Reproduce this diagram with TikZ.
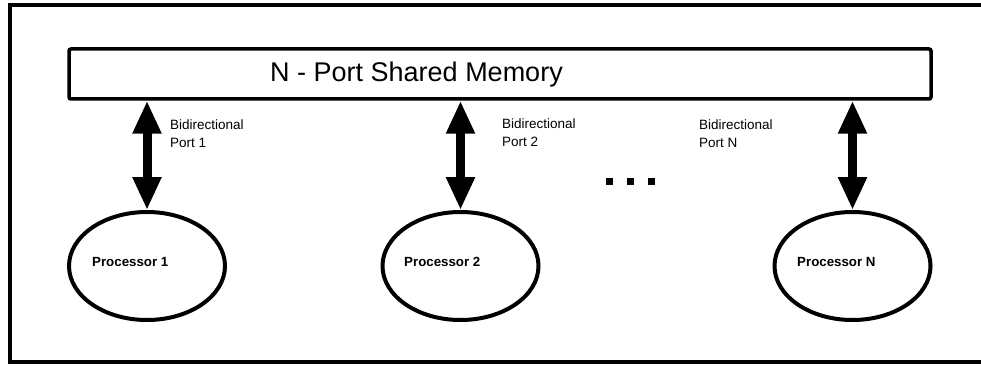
\documentclass[tikz,border=0pt]{standalone}
\usepackage{fontspec}
\setmainfont{Liberation Sans}
\usetikzlibrary{arrows.meta,shapes.geometric}

\tikzset{
  membox/.style={draw, line width=3.5pt, rounded corners=2pt, minimum width=862pt, minimum height=50pt, inner sep=0pt},
  memtext/.style={anchor=base west, inner sep=0pt, font=\fontsize{27}{32}\selectfont},
  procbox/.style={draw, ellipse, line width=4pt, minimum width=156pt, minimum height=108pt, inner sep=0pt},
  proctext/.style={anchor=base west, inner sep=0pt, font=\bfseries\fontsize{13.3}{16}\selectfont},
  porttext/.style={anchor=north west, inner sep=0pt, align=left, font=\fontsize{13.5}{18}\selectfont},
  portarrow/.style={line width=9pt, {Triangle[length=33pt,width=27pt]}-{Triangle[length=33pt,width=27pt]}},
}

\begin{document}
\begin{tikzpicture}[x=1pt,y=-1pt]
    % Fix the bounding box to the reference size
    \useasboundingbox (0,0) rectangle (981,366);

    % Draw the outer frame (its right side runs off the page)
    \draw[line width=4pt] (10,5) rectangle (995,362);

    % Shared memory bar and its label
    \node[membox] (mem) at (500,74) {};
    \node[memtext] (memlabel) at (270,82) {N - Port Shared Memory};

    % Draw the processors
    \node[procbox] (p1) at (147,266) {};
    \node[procbox] (p2) at (460.5,266) {};
    \node[procbox] (pN) at (852.5,266) {};
    \node[proctext] (p1label) at (92,266.5) {Processor 1};
    \node[proctext] (p2label) at (404,266.5) {Processor 2};
    \node[proctext] (pNlabel) at (797,266.5) {Processor N};

    % Bidirectional ports
    \draw[portarrow] (mem.south -| p1.north) -- (p1.north);
    \draw[portarrow] (mem.south -| p2.north) -- (p2.north);
    \draw[portarrow] (mem.south -| pN.north) -- (pN.north);
    \node[porttext] (port1) at (170,120) {Bidirectional\\Port 1};
    \node[porttext] (port2) at (502,119) {Bidirectional\\Port 2};
    \node[porttext] (portN) at (699,120) {Bidirectional\\Port N};

    % Dots between port 2 and port N
    \foreach \x in {606,627,648}
        \fill (\x,178) rectangle +(7,7);
\end{tikzpicture}
\end{document}
